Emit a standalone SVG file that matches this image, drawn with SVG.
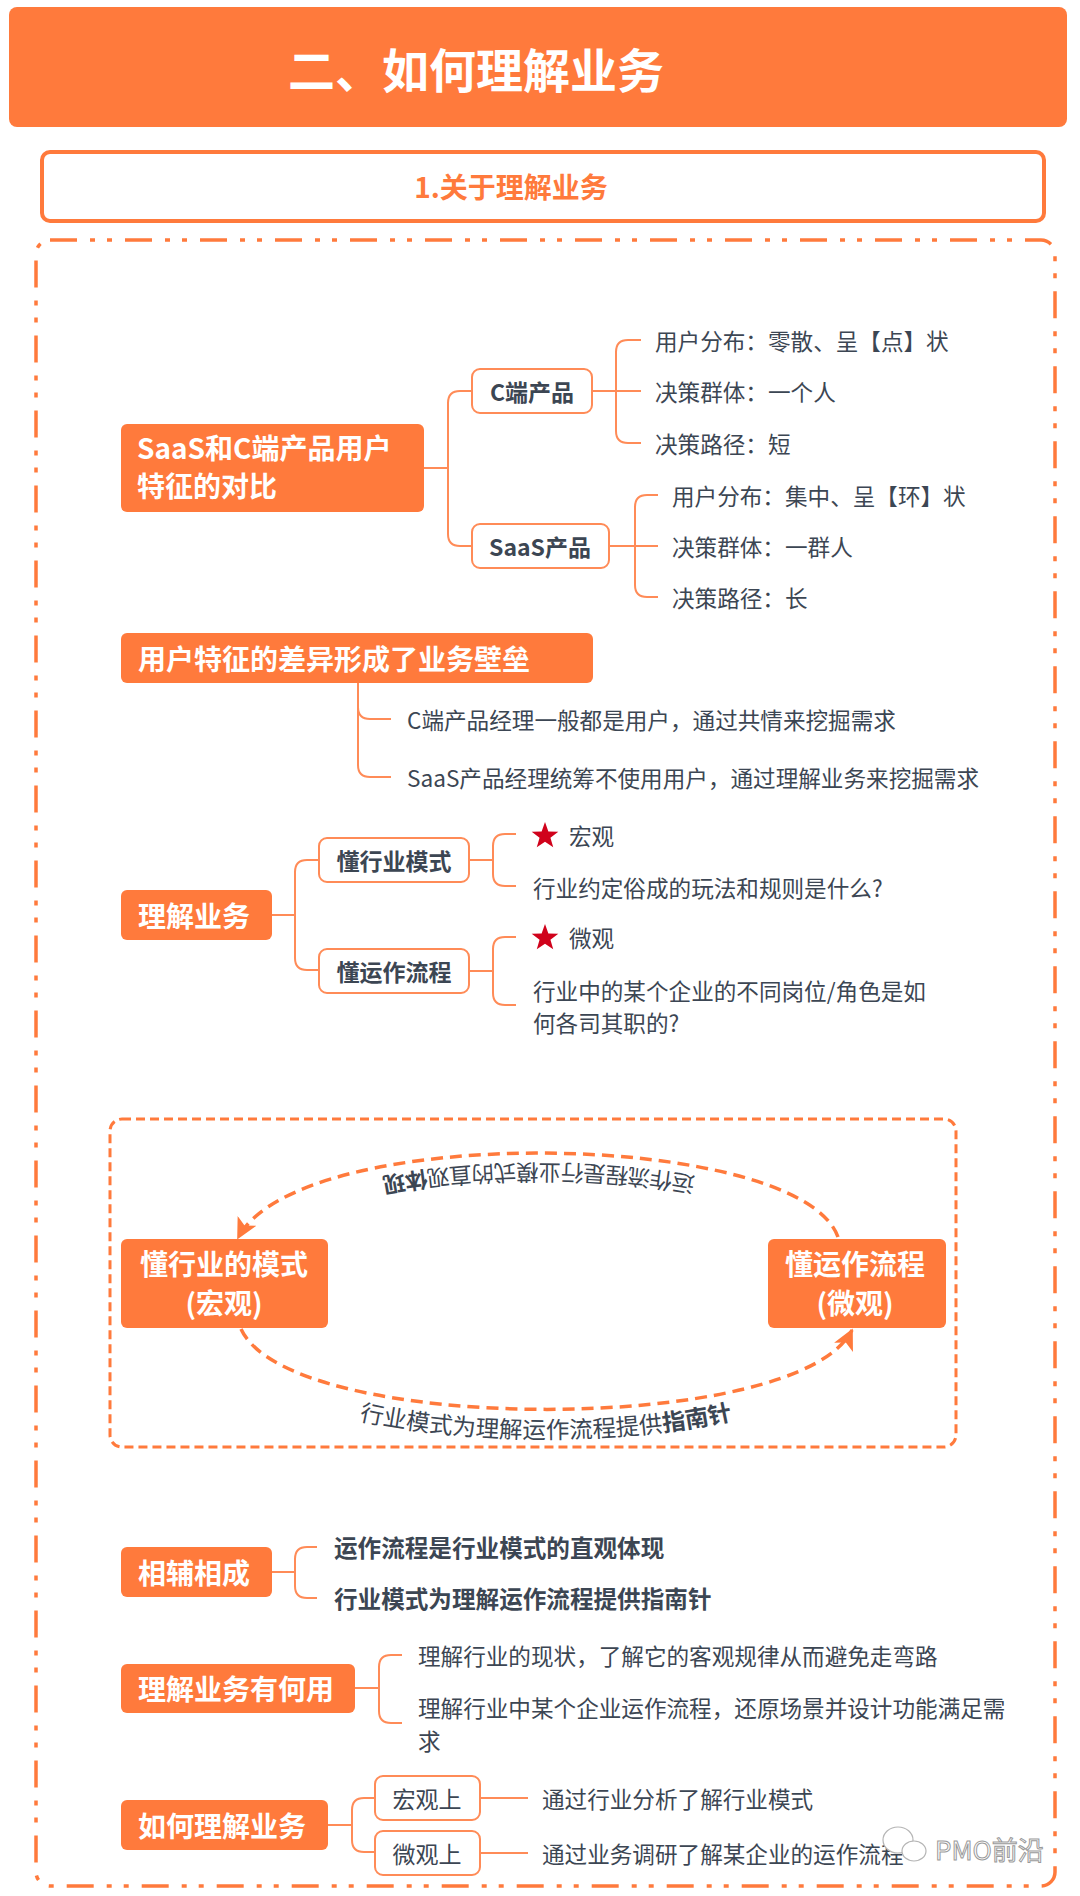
<svg xmlns="http://www.w3.org/2000/svg" width="1080" height="1896" viewBox="0 0 1080 1896">
<style>
text{font-family:"Noto Sans CJK SC","Noto Sans",sans-serif;dominant-baseline:central}
.org{fill:#FF7A3C}
.sub{fill:#fff;stroke:#FF8B57;stroke-width:2}
.wt{fill:#fff;font-weight:bold;font-size:28px}
.bt{fill:#3C4653;font-weight:bold;font-size:23px;text-anchor:middle}
.rt{fill:#3C4653;font-size:23px;text-anchor:middle}
.lf{fill:#3C4653;font-size:22.6px}
.lb{fill:#3C4653;font-size:23.6px;font-weight:bold}
.cn{fill:none;stroke:#FF8B57;stroke-width:2}
.cy{fill:none;stroke:#FF7A3C;stroke-width:3.5;stroke-dasharray:12 7}
.ct{fill:#3C4653;dominant-baseline:auto}
</style>
<defs>
<marker id="ah" viewBox="0 0 12 12" refX="11" refY="6" markerWidth="6" markerHeight="6" orient="auto" markerUnits="strokeWidth">
<path d="M0,0 L12,6 L0,12 L3,6 z" fill="#FF7A3C"/>
</marker>
<polygon id="star" points="0,-14 3.36,-4.62 13.31,-4.33 5.43,1.76 8.23,11.33 0,5.7 -8.23,11.33 -5.43,1.76 -13.31,-4.33 -3.36,-4.62" fill="#D0021B"/>
<path id="tp1" d="M 826,1242 C 790,1143 310,1133 250,1242"/>
<path id="tp2" d="M 230,1350 C 285,1468 805,1468 862,1350"/>
</defs>

<g id="header">
<rect x="9" y="7" width="1058" height="120" rx="8" class="org"/>
<text x="288" y="67" style="fill:#fff;font-weight:bold;font-size:47px">二、如何理解业务</text>
</g>
<g id="subtitle">
<rect x="42" y="152" width="1002" height="69" rx="8" fill="#fff" stroke="#FF7A3C" stroke-width="4"/>
<text x="511" y="186" text-anchor="middle" style="fill:#FF7A3C;font-weight:bold;font-size:28px">1.关于理解业务</text>
</g>
<rect id="frame" x="36" y="240" width="1019" height="1646" rx="14" fill="none" stroke="#FF7A3C" stroke-width="3.5" stroke-dasharray="27 13 5 12 5 13"/>

<g id="connectors">
<path class="cn" d="M424,468 H448 M472,391 H460 Q448,391 448,403 V534 Q448,546 460,546 H472"/>
<path class="cn" d="M592,391 H641 M641,340 H628 Q616,340 616,352 V431 Q616,443 628,443 H641"/>
<path class="cn" d="M609,546 H658 M658,495 H647 Q635,495 635,507 V585 Q635,597 647,597 H658"/>
<path class="cn" d="M358,683 V765 Q358,777 370,777 H391 M358,707 Q358,719 370,719 H391"/>
<path class="cn" d="M272,915 H295 M319,860 H307 Q295,860 295,872 V958 Q295,970 307,970 H319"/>
<path class="cn" d="M469,860 H493 M516,834 H505 Q493,834 493,846 V874 Q493,886 505,886 H516"/>
<path class="cn" d="M469,971 H493 M516,937 H505 Q493,937 493,949 V993 Q493,1005 505,1005 H516"/>
<path class="cn" d="M272,1572 H295 M317,1547 H307 Q295,1547 295,1559 V1586 Q295,1598 307,1598 H317"/>
<path class="cn" d="M355,1688 H379 M402,1655 H391 Q379,1655 379,1667 V1711 Q379,1723 391,1723 H402"/>
<path class="cn" d="M328,1825 H352 M375,1798 H364 Q352,1798 352,1810 V1840 Q352,1852 364,1852 H375"/>
<path class="cn" d="M480,1798 H528 M480,1853 H528"/>
<path class="cy" d="M 838,1237 C 800,1130 300,1120 238,1238" marker-end="url(#ah)"/>
<path class="cy" d="M 241,1329 C 290,1436 800,1436 852,1330" marker-end="url(#ah)"/>
<text class="ct" font-size="22.5"><textPath href="#tp1" startOffset="50%" text-anchor="middle">运作流程是行业模式的直观<tspan font-weight="bold">体现</tspan></textPath></text>
<text class="ct" font-size="23.5"><textPath href="#tp2" startOffset="50%" text-anchor="middle">行业模式为理解运作流程提供<tspan font-weight="bold">指南针</tspan></textPath></text>
</g>

<g id="n-saas-c">
<rect x="121" y="424" width="303" height="88" rx="6" class="org"/>
<text x="137" y="447" class="wt">SaaS和C端产品用户</text>
<text x="137" y="485" class="wt">特征的对比</text>
</g>
<g id="n-c"><rect x="472" y="369" width="120" height="44" rx="8" class="sub"/><text x="532" y="391" class="bt">C端产品</text></g>
<g id="n-saas"><rect x="472" y="524" width="137" height="44" rx="8" class="sub"/><text x="540" y="546" class="bt">SaaS产品</text></g>
<g id="l-c1"><text x="655" y="340" class="lf">用户分布：零散、呈【点】状</text></g>
<g id="l-c2"><text x="655" y="391" class="lf">决策群体：一个人</text></g>
<g id="l-c3"><text x="655" y="443" class="lf">决策路径：短</text></g>
<g id="l-s1"><text x="672" y="495" class="lf">用户分布：集中、呈【环】状</text></g>
<g id="l-s2"><text x="672" y="546" class="lf">决策群体：一群人</text></g>
<g id="l-s3"><text x="672" y="597" class="lf">决策路径：长</text></g>

<g id="n-barrier">
<rect x="121" y="633" width="472" height="50" rx="6" class="org"/>
<text x="138" y="658" class="wt">用户特征的差异形成了业务壁垒</text>
</g>
<g id="l-b1"><text x="407" y="719" class="lf">C端产品经理一般都是用户，通过共情来挖掘需求</text></g>
<g id="l-b2"><text x="407" y="777" class="lf">SaaS产品经理统筹不使用用户，通过理解业务来挖掘需求</text></g>

<g id="n-understand">
<rect x="121" y="890" width="151" height="50" rx="6" class="org"/>
<text x="138" y="915" class="wt">理解业务</text>
</g>
<g id="n-mode"><rect x="319" y="838" width="150" height="44" rx="8" class="sub"/><text x="394" y="860" class="bt">懂行业模式</text></g>
<g id="n-flow"><rect x="319" y="949" width="150" height="44" rx="8" class="sub"/><text x="394" y="971" class="bt">懂运作流程</text></g>
<g id="l-macro"><use href="#star" x="545" y="836"/><text x="569" y="835" class="lf">宏观</text></g>
<g id="l-rule"><text x="533" y="887" class="lf">行业约定俗成的玩法和规则是什么?</text></g>
<g id="l-micro"><use href="#star" x="545" y="938"/><text x="569" y="937" class="lf">微观</text></g>
<g id="l-role"><text x="533" y="990" class="lf">行业中的某个企业的不同岗位/角色是如</text><text x="533" y="1022" class="lf">何各司其职的?</text></g>

<rect id="cycle-frame" x="110" y="1119" width="846" height="328" rx="12" fill="none" stroke="#FF7A3C" stroke-width="3" stroke-dasharray="9 5"/>
<g id="n-cmode">
<rect x="121" y="1239" width="207" height="89" rx="6" class="org"/>
<text x="224" y="1263" class="wt" text-anchor="middle">懂行业的模式</text>
<text x="224" y="1302" class="wt" text-anchor="middle">(宏观)</text>
</g>
<g id="n-cflow">
<rect x="768" y="1239" width="178" height="89" rx="6" class="org"/>
<text x="855" y="1263" class="wt" text-anchor="middle">懂运作流程</text>
<text x="855" y="1302" class="wt" text-anchor="middle">(微观)</text>
</g>

<g id="n-mutual">
<rect x="121" y="1547" width="151" height="50" rx="6" class="org"/>
<text x="138" y="1572" class="wt">相辅相成</text>
</g>
<g id="l-m1"><text x="334" y="1547" class="lb">运作流程是行业模式的直观体现</text></g>
<g id="l-m2"><text x="334" y="1598" class="lb">行业模式为理解运作流程提供指南针</text></g>

<g id="n-use">
<rect x="121" y="1664" width="234" height="49" rx="6" class="org"/>
<text x="138" y="1688" class="wt">理解业务有何用</text>
</g>
<g id="l-u1"><text x="418" y="1655" class="lf">理解行业的现状，了解它的客观规律从而避免走弯路</text></g>
<g id="l-u2"><text x="418" y="1707" class="lf">理解行业中某个企业运作流程，还原场景并设计功能满足需</text><text x="418" y="1740" class="lf">求</text></g>

<g id="n-how">
<rect x="121" y="1800" width="207" height="50" rx="6" class="org"/>
<text x="138" y="1825" class="wt">如何理解业务</text>
</g>
<g id="n-hmacro"><rect x="375" y="1776" width="105" height="44" rx="8" class="sub"/><text x="427" y="1798" class="rt">宏观上</text></g>
<g id="n-hmicro"><rect x="375" y="1831" width="105" height="44" rx="8" class="sub"/><text x="427" y="1853" class="rt">微观上</text></g>
<g id="l-h1"><text x="542" y="1798" class="lf">通过行业分析了解行业模式</text></g>
<g id="l-h2"><text x="542" y="1853" class="lf">通过业务调研了解某企业的运作流程</text></g>

<g id="watermark">
<ellipse cx="898" cy="1840" rx="15" ry="13" fill="#fff" stroke="#b5b5b5" stroke-width="1.2"/>
<ellipse cx="914" cy="1851" rx="12" ry="10" fill="#fff" stroke="#b5b5b5" stroke-width="1.2"/>
<text x="935" y="1848" style="font-size:26px;fill:#fff;stroke:#9a9a9a;stroke-width:1">PMO前沿</text>
</g>
</svg>
